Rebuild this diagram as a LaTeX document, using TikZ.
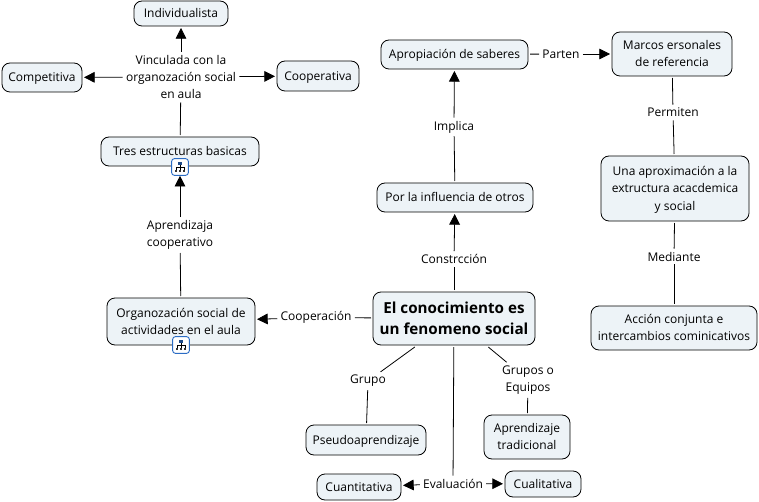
\documentclass[tikz,border=0pt]{standalone}
\usepackage{fontspec}
\setmainfont{Open Sans}
\usepackage{xcolor}
\usepackage{tikz}
\usetikzlibrary{
  arrows.meta,
  positioning,
  calc
}
\definecolor{conceptfill}{HTML}{EDF3F7}
\definecolor{iconblue}{HTML}{2B6CC4}
\tikzset{
  arrow/.style     = {-{Triangle[length=8pt, width=8pt]}, line width=0.6pt},
  link/.style      = {line width=0.6pt},
  boxsize/.style 2 args = {minimum width=#1*0.75pt, minimum height=#2*0.75pt},
  concept/.style   = {draw, rounded corners=6pt, fill=conceptfill, align=center,
                      line width=0.6pt, inner sep=0pt, outer sep=1.5pt, text depth=0.5pt,
                      font=\fontsize{9}{13}\selectfont},
  mainconcept/.style = {concept, font=\fontsize{11.4}{15.8}\selectfont\bfseries},
  phrase/.style    = {align=center, inner sep=1pt, outer sep=1.5pt,
                      font=\fontsize{9}{13}\selectfont},
  iconbox/.style   = {draw=iconblue, fill=white, rounded corners=2pt, line width=0.7pt,
                      minimum size=12.5pt, inner sep=0pt},
  treeicon/.pic    = {
    \fill[iconblue!70!black] (-1.5pt,3.8pt) rectangle (1.5pt,1.8pt);
    \draw[black, line width=0.3pt] (0,1.8pt) -- (0,-2pt) (-3pt,-2pt) -- (-3pt,0) -- (3pt,0) -- (3pt,-2pt);
    \foreach \c in {-3pt,0pt,3pt}
      \fill[black!80] (\c-1pt,-2pt) rectangle (\c+1pt,-4pt);
  },
}
\begin{document}
\begin{tikzpicture}[x=0.75pt, y=-0.75pt]
    \useasboundingbox (0,0) rectangle (759,502);

    % --- LEFT: STRUCTURES ---
    \node[concept, boxsize={94}{25}] (individualista) at (181,13.5) {Individualista};
    \node[concept, boxsize={80}{29}] (competitiva) at (42,77.5) {Competitiva};
    \node[concept, boxsize={82}{30}] (cooperativa) at (318,76) {Cooperativa};
    \node[phrase] (vinculada) at (181,77) {Vinculada con la\\organozación social\\en aula};
    \node[concept, boxsize={158}{29}] (tres) at (180,151.5) {Tres estructuras basicas};
    \node[iconbox] (icontres) at (180,167) {};
    \pic at (icontres) {treeicon};
    \node[phrase] (aprendizaja) at (180,235) {Aprendizaja\\cooperativo};
    \node[concept, boxsize={148}{47}] (organozacion) at (181,321.5) {Organozación social de\\actividades en el aula};
    \node[iconbox] (iconorg) at (181,345) {};
    \pic at (iconorg) {treeicon};
    \node[phrase] (cooperacion) at (316,317.5) {Cooperación};

    % --- CENTER: MAIN CONCEPT ---
    \node[mainconcept, boxsize={162}{53}] (conocimiento) at (454,318.5) {El conocimiento es\\un fenomeno social};
    \node[phrase] (constrccion) at (454,259) {Constrcción};
    \node[concept, boxsize={156}{29}] (influencia) at (455,197.5) {Por la influencia de otros};
    \node[phrase] (implica) at (454,127) {Implica};
    \node[concept, boxsize={147}{29}] (apropiacion) at (454.5,54.5) {Apropiación de saberes};

    % --- RIGHT: FRAMES OF REFERENCE ---
    \node[phrase] (parten) at (561,54) {Parten};
    \node[concept, boxsize={120}{44}] (marcos) at (672,54) {Marcos ersonales\\de referencia};
    \node[phrase] (permiten) at (673,112.5) {Permiten};
    \node[concept, boxsize={148}{65}] (aproximacion) at (675,188.5) {Una aproximación a la\\extructura acacdemica\\y social};
    \node[phrase] (mediante) at (674,256.5) {Mediante};
    \node[concept, boxsize={166}{44}] (accion) at (674,328) {Acción conjunta e\\intercambios cominicativos};

    % --- BOTTOM: GROUPS ---
    \node[phrase] (grupo) at (368,381) {Grupo};
    \node[concept, boxsize={120}{30}] (pseudo) at (366,440) {Pseudoaprendizaje};
    \node[phrase] (grupos) at (528,380) {Grupos o\\Equipos};
    \node[concept, boxsize={86}{44}] (tradicional) at (527,437) {Aprendizaje\\tradicional};
    \node[phrase] (evaluacion) at (453,483.5) {Evaluación};
    \node[concept, boxsize={84}{26}] (cuantitativa) at (359,487) {Cuantitativa};
    \node[concept, boxsize={76}{26}] (cualitativa) at (543,484) {Cualitativa};

    % Connectors with arrowheads
    \draw[arrow] (vinculada) -- (individualista);
    \draw[arrow] (vinculada) -- (competitiva);
    \draw[arrow] (vinculada) -- (cooperativa);
    \draw[arrow] (aprendizaja) -- (icontres);
    \draw[arrow] (cooperacion) -- (organozacion);
    \draw[arrow] (constrccion) -- (influencia);
    \draw[arrow] (implica) -- (apropiacion);
    \draw[arrow] (parten) -- (marcos);
    \draw[arrow] (evaluacion) -- (cuantitativa);
    \draw[arrow] (evaluacion) -- (cualitativa);

    % Plain connectors
    \draw[link] (tres) -- (vinculada);
    \draw[link] (organozacion) -- (aprendizaja);
    \draw[link] (conocimiento) -- (cooperacion);
    \draw[link] (conocimiento) -- (constrccion);
    \draw[link] (influencia) -- (implica);
    \draw[link] (apropiacion) -- (parten);
    \draw[link] (marcos) -- (permiten);
    \draw[link] (permiten) -- (aproximacion);
    \draw[link] (aproximacion) -- (mediante);
    \draw[link] (mediante) -- (accion);
    \draw[link] (conocimiento) -- (grupo);
    \draw[link] (grupo) -- (pseudo);
    \draw[link] (conocimiento) -- (grupos);
    \draw[link] (grupos) -- (tradicional);
    \draw[link] (conocimiento) -- (evaluacion);

\end{tikzpicture}
\end{document}
